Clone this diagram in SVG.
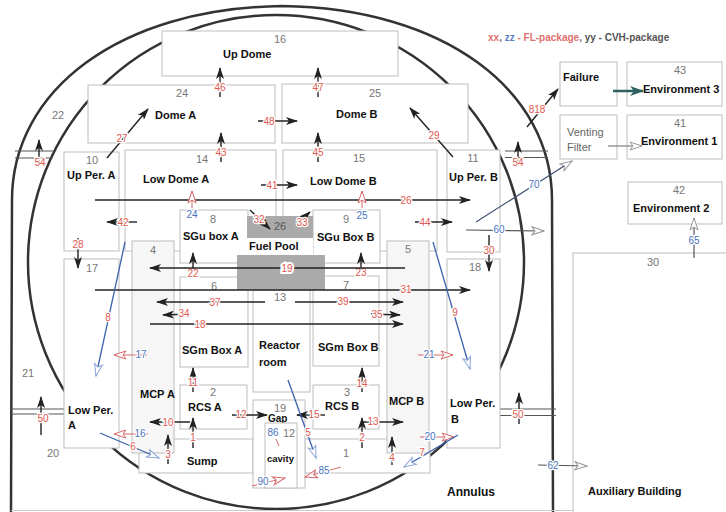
<svg xmlns="http://www.w3.org/2000/svg" width="726" height="512" viewBox="0 0 726 512">
<defs>
<style>
.box{fill:#fff;stroke:#bdbdbd;stroke-width:1}
.mcp{fill:#f6f6f6;stroke:#bdbdbd;stroke-width:1}
.nm{font-family:"Liberation Sans",Arial,sans-serif;font-weight:bold;font-size:11px;fill:#111}
.vf{font-family:"Liberation Sans",Arial,sans-serif;font-size:11px;fill:#666}
.id{font-family:"Liberation Sans",Arial,sans-serif;font-size:11px;fill:#777;text-anchor:middle}
.r,.b{font-family:"Liberation Sans",Arial,sans-serif;font-size:10px;text-anchor:middle;paint-order:stroke;stroke:#fff;stroke-width:2.5px}
.r{fill:#e0584f}
.b{fill:#4a74c0}
.ar{fill:none;stroke:#222;stroke-width:1.4;marker-end:url(#ah)}
.fl{fill:none;stroke:#d86a6a;stroke-width:1;marker-end:url(#ohr)}
.bl{fill:none;stroke:#3a62ad;stroke-width:1.3;marker-end:url(#ohb)}
.gl{fill:none;stroke:#555;stroke-width:1.2;marker-end:url(#ohg)}
.wall{fill:none;stroke:#333;stroke-width:2.5}
.pipe{fill:none;stroke:#555;stroke-width:1.2}
.gray{fill:#aaa;stroke:none}
</style>
<marker id="ah" viewBox="0 0 12 8" refX="11" refY="4" markerWidth="12" markerHeight="8" markerUnits="userSpaceOnUse" orient="auto"><path d="M0,0 L12,4 L0,8 L3,4 z" fill="#222"/></marker>
<marker id="aht" viewBox="0 0 14 10" refX="13" refY="5" markerWidth="14" markerHeight="10" markerUnits="userSpaceOnUse" orient="auto"><path d="M0,0 L14,5 L0,10 L4,5 z" fill="#2f6060"/></marker>
<marker id="ohr" viewBox="0 0 14 10" refX="13" refY="5" markerWidth="14" markerHeight="10" markerUnits="userSpaceOnUse" orient="auto"><path d="M1,1 L13,5 L1,9 L4,5 z" fill="#fff" stroke="#d86a6a" stroke-width="1"/></marker>
<marker id="ohb" viewBox="0 0 14 10" refX="13" refY="5" markerWidth="14" markerHeight="10" markerUnits="userSpaceOnUse" orient="auto"><path d="M1,1 L13,5 L1,9 L4,5 z" fill="#fff" stroke="#8aa6d8" stroke-width="1"/></marker>
<marker id="ohg" viewBox="0 0 14 10" refX="13" refY="5" markerWidth="14" markerHeight="10" markerUnits="userSpaceOnUse" orient="auto"><path d="M1,1 L13,5 L1,9 L4,5 z" fill="#fff" stroke="#999" stroke-width="1"/></marker>
</defs>

<rect x="0" y="0" width="726" height="512" fill="#fff"/>

<g id="containment">
<path class="wall" d="M11,512 L12,200 C12,90 120,8 282,6 C444,8 552,90 552,200 L553,512"/>
<ellipse class="wall" cx="276" cy="262" rx="248" ry="247"/>
<line x1="11" y1="510.5" x2="726" y2="510.5" stroke="#ccc" stroke-width="1"/>
<path class="pipe" d="M15,151 H53 M15,158 H53 M505,151 H548 M505,157.5 H548 M11,409 H64 M11,414 H64 M500,409 H556 M500,415.5 H556"/>
</g>

<g id="n22"><text class="id" x="58" y="119">22</text></g>
<g id="n21"><text class="id" x="28" y="377">21</text></g>
<g id="n20"><text class="id" x="53" y="457">20</text></g>
<g id="annulus"><text class="nm" x="447" y="496" style="font-size:12px">Annulus</text></g>

<g id="n16"><rect class="box" x="162" y="31" width="236" height="45"/><text class="id" x="280" y="43">16</text><text class="nm" x="223" y="58">Up Dome</text></g>
<g id="n24"><rect class="box" x="88" y="85" width="187" height="58"/><text class="id" x="182" y="97">24</text><text class="nm" x="155" y="119">Dome A</text></g>
<g id="n25"><rect class="box" x="282" y="84" width="186" height="59"/><text class="id" x="375" y="97">25</text><text class="nm" x="336" y="118">Dome B</text></g>
<g id="n10"><rect class="box" x="64" y="152" width="55" height="99"/><text class="id" x="92" y="164">10</text><text class="nm" x="67" y="179">Up Per. A</text></g>
<g id="n14"><rect class="box" x="125" y="150" width="151" height="101"/><text class="id" x="202" y="163">14</text><text class="nm" x="143" y="183">Low Dome A</text></g>
<g id="n15"><rect class="box" x="283" y="150" width="154" height="101"/><text class="id" x="359" y="162">15</text><text class="nm" x="310" y="185">Low Dome B</text></g>
<g id="n11"><rect class="box" x="447" y="150" width="53" height="102"/><text class="id" x="473" y="162">11</text><text class="nm" x="449" y="181">Up Per. B</text></g>
<g id="n17"><rect class="box" x="64" y="259" width="55" height="189"/><text class="id" x="92" y="272">17</text><text class="nm" x="68" y="414">Low Per.</text><text class="nm" x="68" y="429">A</text></g>
<g id="n18"><rect class="box" x="447" y="259" width="53" height="189"/><text class="id" x="475" y="271">18</text><text class="nm" x="450" y="407">Low Per.</text><text class="nm" x="451" y="423">B</text></g>
<g id="n1"><rect class="box" x="139" y="439" width="114" height="34"/><rect class="box" x="305" y="439" width="125" height="34"/><text class="nm" x="187" y="465">Sump</text><text class="id" x="346" y="457">1</text></g>
<g id="n4"><rect class="mcp" x="132" y="241" width="42" height="212"/><text class="id" x="153" y="254">4</text><text class="nm" x="140" y="398">MCP A</text></g>
<g id="n5"><rect class="mcp" x="387" y="241" width="42" height="212"/><text class="id" x="408" y="253">5</text><text class="nm" x="389" y="405">MCP B</text></g>
<g id="n8"><rect class="box" x="180" y="210" width="68" height="53"/><text class="id" x="213" y="223">8</text><text class="nm" x="183" y="240">SGu box A</text></g>
<g id="n9"><rect class="box" x="313" y="210" width="67" height="53"/><text class="id" x="346" y="223">9</text><text class="nm" x="317" y="241">SGu Box B</text></g>
<g id="n6"><rect class="box" x="180" y="277" width="68" height="90"/><text class="id" x="214" y="290">6</text><text class="nm" x="182" y="354">SGm Box A</text></g>
<g id="n7"><rect class="box" x="313" y="276" width="66" height="90"/><text class="id" x="346" y="289">7</text><text class="nm" x="318" y="351">SGm Box B</text></g>
<g id="n13"><rect class="box" x="253" y="290" width="57" height="102"/><text class="id" x="280" y="301">13</text><text class="nm" x="259" y="349">Reactor</text><text class="nm" x="259" y="366">room</text></g>
<g id="n26"><rect class="gray" x="247" y="216" width="66" height="22"/><rect x="247" y="238" width="66" height="17" fill="#fff"/><rect class="gray" x="237" y="255" width="88" height="35"/><text class="id" x="280" y="230" style="fill:#555">26</text><text class="nm" x="249" y="250">Fuel Pool</text></g>
<g id="n2"><rect class="box" x="180" y="385" width="67" height="44"/><text class="id" x="213" y="396">2</text><text class="nm" x="188" y="411">RCS A</text></g>
<g id="n3"><rect class="box" x="313" y="385" width="66" height="44"/><text class="id" x="347" y="396">3</text><text class="nm" x="325" y="410">RCS B</text></g>
<g id="n19"><rect class="box" x="253" y="400" width="52" height="88"/><text class="id" x="280" y="412">19</text><text class="nm" x="268" y="422" style="font-size:10px">Gap</text></g>
<g id="n12"><rect class="box" x="265" y="423" width="32" height="65"/><text class="id" x="289" y="437">12</text><text class="nm" x="267" y="462" style="font-size:9.5px">cavity</text></g>

<g id="n30"><rect class="box" x="573" y="253" width="160" height="270"/><text class="id" x="653" y="266">30</text><text class="nm" x="588" y="495">Auxiliary Building</text></g>
<g id="n42"><rect class="box" x="628" y="182" width="94" height="42"/><text class="id" x="679" y="194">42</text><text class="nm" x="633" y="212">Environment 2</text></g>
<g id="failure"><rect class="box" x="560" y="62" width="57" height="44"/><text class="nm" x="563" y="81">Failure</text></g>
<g id="n43"><rect class="box" x="627" y="62" width="95" height="44"/><text class="id" x="680" y="74">43</text><text class="nm" x="643" y="93">Environment 3</text></g>
<g id="venting"><rect class="box" x="560" y="115" width="57" height="44"/><text class="vf" x="567" y="136">Venting</text><text class="vf" x="567" y="151">Filter</text></g>
<g id="n41"><rect class="box" x="627" y="115" width="95" height="44"/><text class="id" x="680" y="127">41</text><text class="nm" x="641" y="145">Environment 1</text></g>

<g id="legend" font-family="Liberation Sans, Arial, sans-serif" font-weight="bold" font-size="10">
<text x="488" y="41"><tspan fill="#e07070">xx</tspan><tspan fill="#777">, </tspan><tspan fill="#5a7cc0">zz</tspan><tspan fill="#e07070"> - FL-package</tspan><tspan fill="#777">, </tspan><tspan fill="#555">yy - CVH-package</tspan></text>
</g>

<g id="connectors">
<line class="ar" x1="220" y1="97" x2="220" y2="68"/><text class="r" x="220" y="91">46</text>
<line class="ar" x1="318" y1="97" x2="318" y2="68"/><text class="r" x="318" y="91">47</text>
<line class="ar" x1="221" y1="162" x2="221" y2="133"/><text class="r" x="221" y="156">43</text>
<line class="ar" x1="318" y1="162" x2="318" y2="133"/><text class="r" x="318" y="156">45</text>
<line class="ar" x1="258" y1="121" x2="297" y2="121"/><text class="r" x="269" y="124.5">48</text>
<line class="ar" x1="107" y1="158" x2="148" y2="109"/><text class="r" x="122" y="142">27</text>
<line class="ar" x1="453" y1="157" x2="410" y2="108"/><text class="r" x="434" y="139">29</text>
<line class="ar" x1="261" y1="185" x2="297" y2="185"/><text class="r" x="272" y="188.5">41</text>
<line class="ar" x1="95" y1="200" x2="470" y2="200"/><text class="r" x="406" y="203.5">26</text>
<line class="ar" x1="137" y1="222" x2="107" y2="222"/><text class="r" x="123" y="225.5">42</text>
<line class="ar" x1="415" y1="222" x2="452" y2="222"/><text class="r" x="425" y="225.5">44</text>
<line class="ar" x1="78" y1="238" x2="78" y2="268"/><text class="r" x="78" y="248">28</text>
<line class="ar" x1="489" y1="235" x2="489" y2="271"/><text class="r" x="489" y="254">30</text>
<line class="ar" x1="250" y1="210" x2="270" y2="229"/><text class="r" x="259" y="223">32</text>
<line class="ar" x1="299" y1="222" x2="310" y2="212"/><text class="r" x="302" y="225.5">33</text>
<line class="ar" x1="193" y1="271" x2="193" y2="253"/><text class="r" x="193" y="277">22</text>
<line class="ar" x1="361" y1="271" x2="361" y2="253"/><text class="r" x="361" y="276">23</text>
<line class="ar" x1="405" y1="268" x2="150" y2="268"/><text class="r" x="287" y="271.5" style="stroke-width:4px">19</text>
<line class="ar" x1="95" y1="290" x2="470" y2="290"/><text class="r" x="406" y="292.5">31</text>
<line class="ar" x1="265" y1="302" x2="157" y2="302"/><text class="r" x="215" y="305.5">37</text>
<line class="ar" x1="295" y1="302" x2="403" y2="302"/><text class="r" x="343" y="305">39</text>
<line class="ar" x1="190" y1="314" x2="163" y2="315"/><text class="r" x="184" y="317">34</text>
<line class="ar" x1="371" y1="314" x2="400" y2="315"/><text class="r" x="377" y="317.5">35</text>
<line class="ar" x1="150" y1="324" x2="403" y2="324"/><text class="r" x="200" y="327.5">18</text>
<line class="ar" x1="193" y1="392" x2="193" y2="368"/><text class="r" x="193" y="386">11</text>
<line class="ar" x1="362" y1="392" x2="362" y2="368"/><text class="r" x="362" y="387">14</text>
<line class="ar" x1="193" y1="448" x2="193" y2="418"/><text class="r" x="193" y="441">1</text>
<line class="ar" x1="362" y1="448" x2="362" y2="418"/><text class="r" x="362" y="441">2</text>
<line class="ar" x1="168" y1="464" x2="168" y2="435"/><text class="r" x="168" y="458">3</text>
<line class="ar" x1="392" y1="465" x2="392" y2="437"/><text class="r" x="392" y="461">4</text>
<line class="ar" x1="190" y1="422" x2="150" y2="422"/><text class="r" x="168" y="425.5">10</text>
<line class="ar" x1="232" y1="415" x2="267" y2="415"/><text class="r" x="241" y="418">12</text>
<line class="ar" x1="325" y1="415" x2="297" y2="415"/><text class="r" x="314" y="417.5">15</text>
<line class="ar" x1="362" y1="422" x2="403" y2="422"/><text class="r" x="373" y="425">13</text>
<line class="ar" x1="39" y1="166" x2="39" y2="140"/><text class="r" x="40" y="166">54</text>
<line class="ar" x1="518" y1="166" x2="518" y2="142"/><text class="r" x="518" y="166">54</text>
<line class="ar" x1="41" y1="435" x2="41" y2="397"/><text class="r" x="43" y="422">50</text>
<line class="ar" x1="519" y1="424" x2="519" y2="393"/><text class="r" x="518" y="418">50</text>
<line class="ar" x1="527" y1="127" x2="558" y2="89"/><text class="r" x="537" y="113">818</text>
<line x1="613" y1="91" x2="643" y2="91" stroke="#2f6060" stroke-width="2.5" marker-end="url(#aht)"/>

<line class="fl" x1="192" y1="208" x2="192" y2="191"/><text class="b" x="192" y="217.5">24</text>
<line class="fl" x1="362" y1="208" x2="362" y2="191"/><text class="b" x="362" y="218.5">25</text>
<line class="bl" x1="125" y1="242" x2="96" y2="376"/><text class="r" x="108" y="321">8</text>
<line class="bl" x1="433" y1="242" x2="470" y2="369"/><text class="r" x="455" y="316">9</text>
<line class="fl" x1="147" y1="355" x2="114" y2="355"/><text class="b" x="141" y="358">17</text>
<line class="fl" x1="418" y1="355" x2="453" y2="355"/><text class="b" x="429" y="358">21</text>
<line class="fl" x1="148" y1="434" x2="114" y2="434"/><text class="b" x="140" y="437">16</text>
<line class="fl" x1="420" y1="437" x2="454" y2="437"/><text class="b" x="430" y="440">20</text>
<line class="bl" x1="100" y1="433" x2="159" y2="458"/><text class="r" x="133" y="450">6</text>
<line class="bl" x1="458" y1="435" x2="404" y2="467"/><text class="r" x="422" y="456">7</text>
<line class="bl" x1="288" y1="380" x2="316" y2="458"/><text class="r" x="308" y="436">5</text>
<line class="fl" x1="341" y1="467" x2="305" y2="477"/><text class="b" x="324" y="474">85</text>
<line class="fl" x1="252" y1="486" x2="285" y2="478"/><text class="b" x="263" y="485">90</text>
<line x1="276" y1="439" x2="279" y2="446" stroke="#d86a6a" stroke-width="1"/><text class="b" x="273" y="436">86</text>
<line class="gl" x1="466" y1="230" x2="544" y2="231"/><text class="b" x="499" y="233">60</text>
<line x1="476" y1="222" x2="572" y2="161" stroke="#3d5070" stroke-width="1.2" marker-end="url(#ohg)"/><text class="b" x="534" y="188">70</text>
<line class="gl" x1="538" y1="465" x2="587" y2="466"/><text class="b" x="553" y="468.5">62</text>
<line class="gl" x1="694" y1="258" x2="694" y2="218"/><text class="b" x="694" y="243.5">65</text>
<line x1="608" y1="146" x2="642" y2="146" stroke="#666" stroke-width="1.2" marker-end="url(#ohg)"/>
</g>
</svg>
